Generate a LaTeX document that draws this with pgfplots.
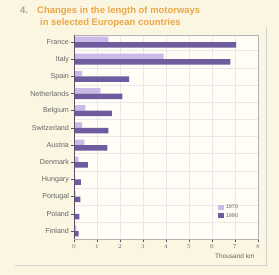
\documentclass[border=0pt]{standalone}
\usepackage{fontspec}
\setmainfont{Liberation Sans}
\usepackage{pgfplots}
\pgfplotsset{compat=1.18}
\definecolor{bgcream}{HTML}{FBF6E2}
\definecolor{plotbg}{HTML}{FFFDF5}
\definecolor{lightbar}{HTML}{CBB9E8}
\definecolor{darkbar}{HTML}{6F5C9E}
\definecolor{titleor}{HTML}{EBA645}
\definecolor{spine}{HTML}{5A5070}
\begin{document}
\begin{tikzpicture}
\fill[bgcream] (0,0) rectangle (279bp,275bp);
\draw[gray!35, line width=0.8pt] (15bp,10bp) -- (266bp,10bp) -- (266bp,248bp);
\node[anchor=base west, inner sep=0pt, font=\fontsize{9.5}{11}\selectfont\bfseries, text=gray!70] at (20bp,261bp) {4.};
\node[anchor=base west, inner sep=0pt, font=\fontsize{9.5}{11}\selectfont\bfseries, text=titleor] at (37bp,261bp) {Changes in the length of motorways};
\node[anchor=base west, inner sep=0pt, font=\fontsize{9.5}{11}\selectfont\bfseries, text=titleor] at (40bp,249bp) {in selected European countries};
\begin{axis}[
  scale only axis,
  width=184bp, height=204bp,
  at={(74bp,36bp)}, anchor=south west,
  xmin=0, xmax=8, ymin=-0.47, ymax=11.41,
  xtick={0,...,8},
  ytick={0,...,11},
  yticklabels={Finland,Poland,Portugal,Hungary,Denmark,Austria,Switzerland,Belgium,Netherlands,Spain,Italy,France},
  minor ytick={0.5,1.5,...,10.5},
  yminorgrids, xmajorgrids,
  minor grid style={gray!18, line width=0.4pt},
  major grid style={gray!18, line width=0.4pt},
  tick align=outside,
  major tick length=2.5bp, minor tick length=0pt,
  tick style={spine, line width=0.5pt},
  xtick pos=bottom, ytick pos=left,
  axis line style={gray!60, line width=0.5pt},
  axis background/.style={fill=plotbg},
  yticklabel style={font=\fontsize{7.2}{8}\selectfont, text=gray!80!black, xshift=1bp},
  xticklabel style={font=\fontsize{6}{7}\selectfont, text=gray!80!black},
  xbar, bar width=0.32,
  xlabel={Thousand km},
  xlabel style={font=\fontsize{6.5}{7}\selectfont, text=gray!80!black, at={(rel axis cs:1,0)}, anchor=north east, yshift=-11bp},
  legend style={at={(0.92,0.08)}, anchor=south east, draw=none, fill=none, font=\fontsize{5.5}{6}\selectfont, text=gray!80!black, row sep=-1pt},
  legend image code/.code={\fill[#1] (0bp,-2.5bp) rectangle (6bp,3bp);},
  legend cell align=left,
]
\addplot[fill=lightbar, draw=none, bar shift=0.16] coordinates {
 (1.5,11) (3.9,10) (0.35,9) (1.15,8) (0.5,7) (0.35,6) (0.45,5) (0.2,4) (0.05,3) (0.07,2) (0.05,1) (0.1,0)
};
\addlegendentry{1970}
\addplot[fill=darkbar, draw=none, bar shift=-0.16] coordinates {
 (7.05,11) (6.8,10) (2.4,9) (2.1,8) (1.65,7) (1.5,6) (1.45,5) (0.6,4) (0.3,3) (0.28,2) (0.23,1) (0.2,0)
};
\addlegendentry{1990}
\draw[spine, line width=0.8pt] (rel axis cs:0,0) -- (rel axis cs:0,1);
\draw[spine, line width=0.8pt] (rel axis cs:0,0) -- (rel axis cs:1,0);
\end{axis}
\end{tikzpicture}
\end{document}
